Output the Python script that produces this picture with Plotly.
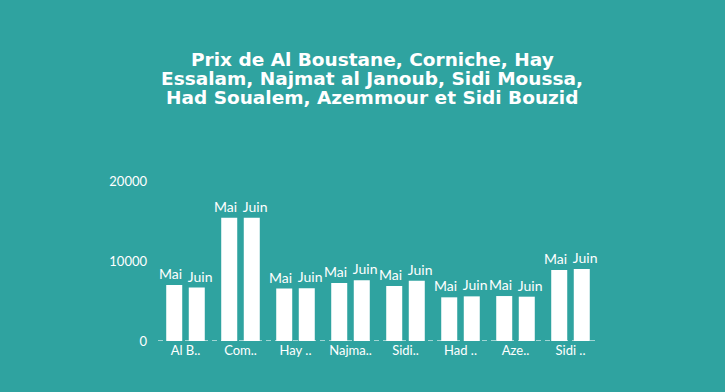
import plotly.graph_objects as go

categories = ["Al Boustane", "Corniche", "Hay Essalam", "Najmat al Janoub",
              "Sidi Moussa", "Had Soualem", "Azemmour", "Sidi Bouzid"]
tick_labels = ["Al B..", "Com..", "Hay ..", "Najma..", "Sidi..", "Had ..", "Aze..", "Sidi .."]
mai = [7000, 15400, 6550, 7250, 6880, 5460, 5620, 8880]
juin = [6680, 15400, 6580, 7580, 7540, 5580, 5540, 9000]
title_lines = ["Prix de Al Boustane, Corniche, Hay",
               "Essalam, Najmat al Janoub, Sidi Moussa,",
               "Had Soualem, Azemmour et Sidi Bouzid"]

BG = "#2fa3a0"
font_fam = "Lato, Roboto, sans-serif"
W, H = 725, 392
NB = "\u00a0"

fig = go.Figure()
for name, vals, label in [("Mai", mai, "Mai" + NB * 2), ("Juin", juin, NB * 2 + "Juin")]:
    fig.add_trace(go.Bar(
        x=categories, y=vals, name=name,
        marker=dict(color="white", line=dict(width=0)),
        text=[label] * len(vals), textposition="outside",
        textfont=dict(color="white", size=14, family=font_fam),
        cliponaxis=False, hoverinfo="x+y",
    ))

fig.add_shape(type="line", xref="paper", yref="y", x0=0, x1=1, y0=0, y1=0,
              line=dict(color="rgba(255,255,255,0.55)", width=2, dash="5px,4px"),
              layer="above")

title_y = [59, 78, 97]
for line, yp in zip(title_lines, title_y):
    fig.add_annotation(
        text=line, xref="paper", yref="paper",
        x=(372 - 158) / (W - 158 - 127), xanchor="center",
        y=(H - 51 - yp) / (H - 181 - 51), yanchor="middle",
        showarrow=False,
        font=dict(family="DejaVu Sans, sans-serif", size=18.5, color="white", weight="bold"),
    )

fig.update_layout(
    width=W, height=H,
    paper_bgcolor=BG, plot_bgcolor=BG,
    barmode="group", bargap=0.18, bargroupgap=0.29,
    showlegend=False,
    uniformtext=dict(minsize=14, mode="show"),
    margin=dict(l=158, r=127, t=181, b=51),
    xaxis=dict(tickvals=categories, ticktext=tick_labels, showgrid=False, showline=False,
               zeroline=False, tickfont=dict(color="white", size=13, family=font_fam),
               ticks=""),
    yaxis=dict(range=[0, 20000], tickvals=[0, 10000, 20000], ticktext=["0", "10000", "20000"],
               showgrid=False, zeroline=False, showline=False,
               tickfont=dict(color="white", size=13, family=font_fam),
               ticklabelstandoff=10),
)

fig.write_html("out.html", config={"displayModeBar": False},
               post_script="document.body.style.margin='0';")
